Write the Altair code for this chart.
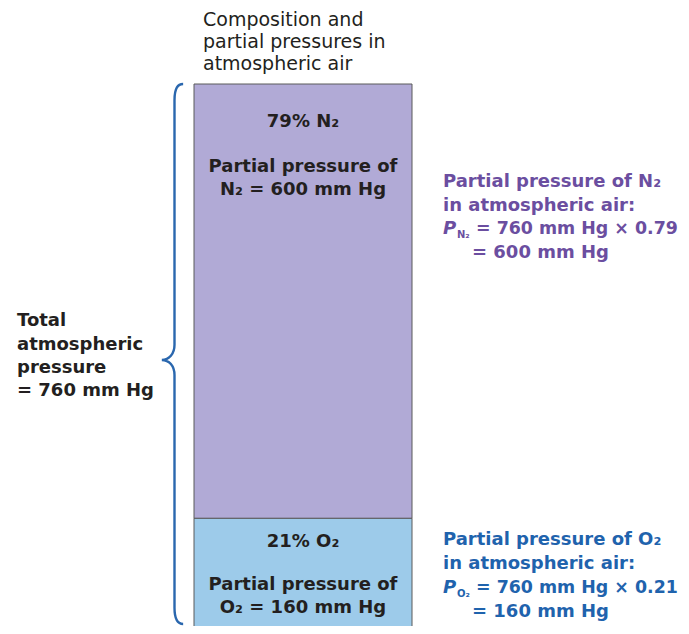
import altair as alt
import pandas as pd

# ---- data ----
gases = ["O₂", "N₂"]
percents = [21, 79]
partial_pressures = [160, 600]          # mm Hg
total_pressure = 760                    # mm Hg
fractions = ["0.21", "0.79"]
bar_colors = ["#9dcbea", "#b1aad6"]
note_colors = ["#1f63ad", "#6b4ea0"]

title_lines = ["Composition and", "partial pressures in", "atmospheric air"]
total_lines = ["Total", "atmospheric", "pressure", f"= {total_pressure} mm Hg"]

# stacking (O2 at bottom)
y_lo, y_hi, acc = [], [], 0
for p in partial_pressures:
    y_lo.append(acc)
    acc += p
    y_hi.append(acc)
bars_df = pd.DataFrame({"gas": gases, "y0": y_lo, "y1": y_hi,
                        "col": ["Atmospheric air"] * len(gases)})

FONT = "DejaVu Sans"
DARK = "#231f20"
OFF = 8  # page margin

yscale = alt.Scale(domain=[0, total_pressure], range=[626, 76], nice=False)

bars = alt.Chart(bars_df).mark_bar(stroke="#5a5a5a", strokeWidth=1, opacity=1).encode(
    x=alt.X("col:N", axis=None,
            scale=alt.Scale(range=[186, 404], paddingInner=0, paddingOuter=0)),
    y=alt.Y("y0:Q", axis=None, scale=yscale),
    y2="y1:Q",
    color=alt.Color("gas:N", legend=None,
                    scale=alt.Scale(domain=gases, range=bar_colors)),
)

# brace from page y 84 to 624, tip at page y 360 (symbol centre at 354, half 270)
brace_path = ("M 0.032 -1 C 0.012 -1 0 -0.985 0 -0.94 L 0 -0.034 "
              "C 0 0.0 -0.02 0.022 -0.047 0.022 C -0.02 0.022 0 0.044 0 0.078 "
              "L 0 0.94 C 0 0.985 0.012 1 0.032 1")
brace = alt.Chart(pd.DataFrame({"t": ["brace"]})).mark_point(
    shape=brace_path, size=540 ** 2, filled=False, stroke="#2a67ae",
    strokeWidth=2.4, opacity=1,
).encode(x=alt.value(174.5 - OFF), y=alt.value(354 - OFF))


def text_layer(s, x, y, color=DARK, size=18, weight="bold", align="left",
               italic=False):
    return alt.Chart(pd.DataFrame({"t": [s]})).mark_text(
        font=FONT, fontSize=size, fontWeight=weight, align=align,
        baseline="alphabetic", color=color,
        fontStyle="italic" if italic else "normal",
    ).encode(text="t:N", x=alt.value(x - OFF), y=alt.value(y - OFF))


layers = [bars, brace]

# title above the bar
for line, by in zip(title_lines, [26, 48, 70]):
    layers.append(text_layer(line, 203, by, weight="normal", size=19))

# left label
for line, by in zip(total_lines, [326, 350, 373, 396]):
    layers.append(text_layer(line, 17, by))

cx = 303
# inside the bar: N2 (index 1), O2 (index 0)
in_bar_y = {1: (127, 172, 195), 0: (547, 590, 613)}
for i in [1, 0]:
    a, b, c = in_bar_y[i]
    layers.append(text_layer(f"{percents[i]}% {gases[i]}", cx, a, align="center"))
    layers.append(text_layer("Partial pressure of", cx, b, align="center"))
    layers.append(text_layer(f"{gases[i]} = {partial_pressures[i]} mm Hg", cx, c,
                             align="center"))

# right-hand notes
note_y = {1: (187, 210.5, 234, 257.5), 0: (545, 569, 593, 617)}
for i in [1, 0]:
    a, b, c, d = note_y[i]
    col = note_colors[i]
    layers.append(text_layer(f"Partial pressure of {gases[i]}", 443, a, color=col))
    layers.append(text_layer("in atmospheric air:", 443, b, color=col))
    layers.append(text_layer("P", 443, c, color=col, italic=True))
    layers.append(text_layer(gases[i], 457, c + 4, color=col, size=10))
    layers.append(text_layer(f"= {total_pressure} mm Hg × {fractions[i]}", 476, c,
                             color=col, size=17.4))
    layers.append(text_layer(f"= {partial_pressures[i]} mm Hg", 472, d, color=col))

chart = alt.layer(*layers).properties(
    width=673, height=618, padding=0,
    autosize=alt.AutoSizeParams(type="none"),
).configure_view(strokeWidth=0)

chart.save("out.html", embed_options={"renderer": "svg", "actions": False})
